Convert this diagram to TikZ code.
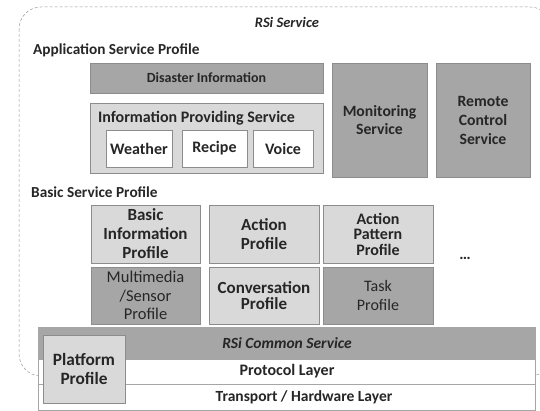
\documentclass[tikz,border=0pt]{standalone}
\usepackage{fontspec}
\setmainfont{Carlito}
\definecolor{darkfill}{HTML}{A6A6A6}
\definecolor{lightfill}{HTML}{D9D9D9}
\definecolor{edge}{HTML}{8C8C8C}
\definecolor{ink}{HTML}{262626}
\newcommand{\fsz}[2]{\fontsize{#1}{#2}\selectfont}
\begin{document}
\begin{tikzpicture}[x=1pt,y=-1pt,
  base/.style={draw=edge, line width=0.9pt, inner sep=0pt, align=center, text=ink, font=\bfseries},
  darkbox/.style={base, fill=darkfill},
  lightbox/.style={base, fill=lightfill},
  whitebox/.style={base, fill=white},
  caption/.style={inner sep=0pt, text=ink, font=\bfseries},
  sz/.style n args={2}{minimum width=#1pt, minimum height=#2pt}
]
\useasboundingbox (0,0) rectangle (540,411);
\begin{scope}
\clip (0,0) rectangle (540,411);
% dashed outline of the RSi service area
\draw[densely dashed, draw=gray!80, line width=0.5pt, rounded corners=22pt] (19,7) rectangle (552,376);
\end{scope}
\node[caption, font=\bfseries\itshape\fsz{14.5}{16}] (rsi) at (287,22) {RSi Service};
\node[caption, anchor=west, font=\bfseries\fsz{15.3}{17}] (asp) at (33,50) {Application Service Profile};

% application service profile
\node[darkbox, sz={233}{30}, font=\bfseries\fsz{14}{16}] (dis) at (206.5,78) {Disaster Information};
\node[lightbox, sz={233}{70}] (ips) at (206.5,138) {};
\node[caption, font=\bfseries\fsz{16}{18}] (ipst) at (196.5,118) {Information Providing Service};
\node[whitebox, sz={66}{37}, font=\bfseries\fsz{16}{18}] (wea) at (139,148.5) {Weather};
\node[whitebox, sz={65}{37}, font=\bfseries\fsz{16}{18}] (rec) at (214.5,148.5) {Recipe};
\node[whitebox, sz={60}{37}, font=\bfseries\fsz{16}{18}] (voi) at (283,148.5) {Voice};
\node[darkbox, sz={95}{114}, font=\bfseries\fsz{15.7}{18.5}] (mon) at (379.5,120) {Monitoring\\Service};
\node[darkbox, sz={94}{114}, font=\bfseries\fsz{15.7}{19}] (rem) at (483,120) {Remote\\Control\\Service};

% basic service profile
\node[caption, anchor=west, font=\bfseries\fsz{15.3}{17}] (bsp) at (31,192) {Basic Service Profile};
\node[lightbox, sz={109}{58}, font=\bfseries\fsz{17}{19}] (bip) at (145.5,234) {Basic\\Information\\Profile};
\node[lightbox, sz={110}{58}, font=\bfseries\fsz{17}{19}] (act) at (264,234) {Action\\Profile};
\node[lightbox, sz={110}{58}, font=\bfseries\fsz{16}{15.5}] (apat) at (378,234) {Action\\Pattern\\Profile};
\node[darkbox, sz={109}{57}, font=\fsz{16.5}{18.3}] (mms) at (145.5,295.5) {Multimedia\\/Sensor\\Profile};
\node[lightbox, sz={110}{57}, font=\bfseries\fsz{17}{16}] (conv) at (264,295.5) {Conversation\\Profile};
\node[darkbox, sz={110}{57}, font=\fsz{16}{19}] (task) at (378,295.5) {Task\\Profile};
\node[caption, font=\bfseries\fsz{16}{18}] (more) at (465,258) {\dots};

% common service and lower layers
\node[whitebox, draw=gray!70, sz={497}{26}] (tra) at (286.5,397) {};
\node[whitebox, draw=gray!70, sz={497}{25}] (pro) at (286.5,371.5) {};
\node[darkbox, draw=gray!70, sz={497}{32}] (com) at (286.5,343) {};
\node[caption, font=\bfseries\itshape\fsz{15.5}{17}] (comt) at (287,343) {RSi Common Service};
\node[caption, font=\bfseries\fsz{16}{18}] (prot) at (287,371.5) {Protocol Layer};
\node[caption, font=\bfseries\fsz{15.5}{18}] (trat) at (304,397) {Transport / Hardware Layer};
\node[lightbox, sz={82}{68}, font=\bfseries\fsz{17.3}{18.5}] (plat) at (84,369) {Platform\\Profile};
\end{tikzpicture}
\end{document}
